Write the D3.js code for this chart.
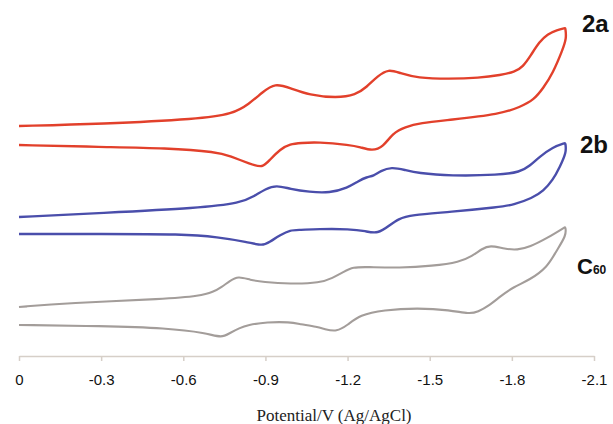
<!DOCTYPE html>
<html>
<head>
<meta charset="utf-8">
<script src="https://cdnjs.cloudflare.com/ajax/libs/d3/7.8.5/d3.min.js"></script>
<style>
  body { margin: 0; background: #fff; }
  svg { display: block; }
</style>
</head>
<body>
<script>
// potential (V vs Ag/AgCl) and current (arbitrary units, curves offset)
const ticks = [0, -0.3, -0.6, -0.9, -1.2, -1.5, -1.8, -2.1];

const fwd2a = [[0,23.0],[-0.3,23.2],[-0.66,23.7],[-0.78,24.2],[-0.84,25.2],[-0.89,26.4],[-0.935,27.3],
  [-0.99,26.8],[-1.06,26.1],[-1.16,25.8],[-1.23,26.1],[-1.27,26.9],[-1.31,28.0],[-1.35,28.7],[-1.39,28.3],
  [-1.455,27.8],[-1.57,27.7],[-1.68,27.8],[-1.76,28.1],[-1.81,28.4],[-1.84,28.9],[-1.87,30.1],[-1.9,31.4],
  [-1.93,32.2],[-1.965,32.6],[-1.995,32.8],[-1.995,32.8]];
const rev2a = [[-2.0,31.8],[-1.985,30.6],[-1.95,28.3],[-1.915,26.8],[-1.88,25.6],[-1.83,24.9],[-1.76,24.2],
  [-1.57,23.6],[-1.465,23.3],[-1.41,22.9],[-1.365,22.3],[-1.33,20.9],[-1.29,20.5],[-1.245,20.9],[-1.21,21.1],
  [-1.09,21.4],[-1.03,21.3],[-0.99,21.2],[-0.955,20.7],[-0.915,19.6],[-0.89,18.8],[-0.845,19.2],[-0.77,20.0],
  [-0.725,20.4],[-0.54,20.8],[-0.3,20.9],[0,21.1]];

const fwd2b = [[0,13.9],[-0.3,14.3],[-0.66,14.8],[-0.81,15.3],[-0.86,16.0],[-0.9,16.7],[-0.94,17.1],
  [-0.99,16.7],[-1.06,16.4],[-1.135,16.3],[-1.2,16.8],[-1.24,17.5],[-1.27,17.9],[-1.295,18.0],[-1.32,18.5],
  [-1.36,18.9],[-1.41,18.6],[-1.455,18.3],[-1.575,18.0],[-1.755,18.1],[-1.83,18.4],[-1.865,19.0],[-1.9,19.9],
  [-1.95,20.9],[-1.995,21.3],[-1.995,21.3]];
const rev2b = [[-2.0,20.4],[-1.975,18.9],[-1.95,17.6],[-1.915,16.5],[-1.875,15.8],[-1.805,15.1],[-1.755,14.9],
  [-1.575,14.4],[-1.43,14.1],[-1.385,13.7],[-1.355,13.1],[-1.31,12.2],[-1.265,12.5],[-1.21,12.7],[-1.09,12.7],
  [-1.025,12.6],[-0.99,12.6],[-0.955,12.1],[-0.915,11.4],[-0.89,11.0],[-0.835,11.4],[-0.725,11.9],[-0.6,12.2],
  [-0.3,12.2],[0,12.2]];

const fwdC60 = [[0,4.9],[-0.175,5.3],[-0.54,5.7],[-0.66,6.0],[-0.71,6.4],[-0.74,6.9],[-0.77,7.5],[-0.8,8.0],
  [-0.845,7.6],[-0.89,7.4],[-0.99,7.2],[-1.1,7.3],[-1.145,7.8],[-1.185,8.4],[-1.22,8.9],[-1.27,8.9],[-1.39,8.8],
  [-1.51,9.0],[-1.61,9.4],[-1.655,10.0],[-1.69,10.7],[-1.72,11.1],[-1.775,10.7],[-1.82,10.6],[-1.865,10.9],
  [-1.93,11.8],[-1.995,12.9],[-1.995,12.9]];
const revC60 = [[-2.0,12.1],[-1.96,10.4],[-1.93,8.9],[-1.865,7.6],[-1.805,6.9],[-1.755,5.9],[-1.72,5.1],
  [-1.675,4.4],[-1.645,4.2],[-1.575,4.6],[-1.455,4.8],[-1.33,4.6],[-1.245,4.1],[-1.2,3.1],[-1.16,2.4],
  [-1.115,2.7],[-1.09,2.9],[-1.025,3.2],[-0.99,3.4],[-0.905,3.4],[-0.835,3.1],[-0.805,2.8],[-0.77,2.3],
  [-0.74,1.8],[-0.685,2.3],[-0.54,2.8],[-0.3,3.0],[0,3.1]];

const curves = [
  { name: "2a", pts: fwd2a.concat(rev2a), color: "#e2402b" },
  { name: "2b", pts: fwd2b.concat(rev2b), color: "#4a4eab" },
  { name: "C60", pts: fwdC60.concat(revC60), color: "#a39d9a" }
];

const width = 613, height = 424;
const svg = d3.select("body").append("svg")
  .attr("width", width)
  .attr("height", height);

const x = d3.scaleLinear().domain([0, -2.1]).range([19, 594]);
const y = d3.scaleLinear().domain([0, 34]).range([356, 16]);

// axis
const axis = svg.append("g")
  .attr("transform", "translate(0,356)")
  .call(d3.axisBottom(x).tickValues(ticks).tickSize(5).tickSizeOuter(0)
    .tickFormat(d => d === 0 ? "0" : d3.format(".1f")(d).replace("−", "-")));
axis.select(".domain").attr("stroke", "#d6cfc8").attr("stroke-width", 1.5);
axis.selectAll(".tick line").attr("stroke", "#d6cfc8").attr("stroke-width", 1.5);
axis.selectAll(".tick text")
  .attr("y", 29)
  .attr("dy", 0)
  .attr("fill", "#111")
  .style("font-family", "Liberation Sans, Arial, sans-serif")
  .style("font-size", "15px");

svg.append("text")
  .attr("x", 334).attr("y", 421)
  .attr("text-anchor", "middle")
  .style("font-family", "Liberation Serif, Times New Roman, serif")
  .style("font-size", "17px")
  .attr("fill", "#222")
  .text("Potential/V (Ag/AgCl)");

const line = d3.line()
  .x(d => x(d[0]))
  .y(d => y(d[1]))
  .curve(d3.curveBasis);

svg.selectAll("path.cv")
  .data(curves)
  .enter().append("path")
  .attr("class", "cv")
  .attr("d", d => line(d.pts))
  .attr("fill", "none")
  .attr("stroke", d => d.color)
  .attr("stroke-width", d => d.name === "C60" ? 2.1 : 2.4)
  .attr("stroke-linejoin", "round");

// labels
const lab = svg.append("g")
  .style("font-family", "Liberation Sans, Arial, sans-serif")
  .style("font-weight", "bold")
  .attr("fill", "#111");
lab.append("text").attr("x", 582).attr("y", 32).style("font-size", "24px").text("2a");
lab.append("text").attr("x", 580).attr("y", 153).style("font-size", "24px").text("2b");
const c60 = lab.append("text").attr("x", 577).attr("y", 274).style("font-size", "22px");
c60.append("tspan").text("C");
c60.append("tspan").style("font-size", "12px").text("60");
</script>
</body>
</html>
